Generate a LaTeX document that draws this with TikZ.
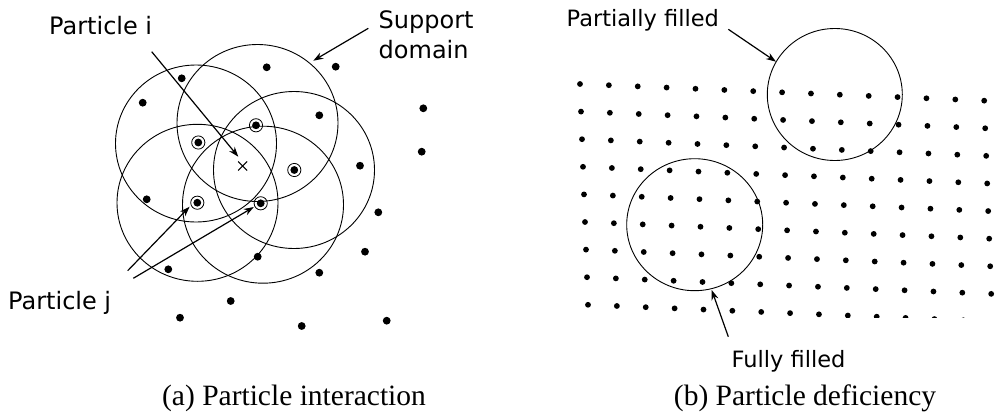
\documentclass[tikz,border=0pt]{standalone}
\usepackage{fontspec}
\setmainfont{Liberation Serif}
\newfontfamily\labelfont{DejaVu Sans}
\usetikzlibrary{arrows.meta}
\tikzset{
  lbl/.style={inner sep=0pt, anchor=base west, font=\labelfont\fontsize{24}{28}\selectfont},
  lblb/.style={inner sep=0pt, anchor=base west, font=\labelfont\fontsize{22.5}{27}\selectfont},
  captext/.style={inner sep=0pt, anchor=base, font=\fontsize{29.5}{34}\selectfont},
  dom/.style={line width=0.9pt, x radius=80.5, y radius=78.5},
  bigdot/.style={fill=black},
  ptr/.style={line width=1.2pt, -{Stealth[length=10pt,width=7pt]}},
}
\begin{document}
\begin{tikzpicture}[x=1pt,y=-1pt]
\useasboundingbox (0,0) rectangle (996,415);
% ---------- (a) ----------
\foreach \cx/\cy in {196/143.5, 257.5/123, 294/170, 197.5/202.8, 263/204.7}
  \draw[dom] (\cx,\cy) ellipse [];
\foreach \px/\py in {266.7/67.3, 335.7/66.7, 181.7/78.3, 142.7/102.7, 319.3/115.3,
  423.3/108.3, 421.7/151.7, 360/165.7, 146.7/199.3, 378.3/212.3, 257.7/256.7,
  365/251.7, 168.3/269.3, 319.3/272.7, 230.7/301, 180/317.7, 301.7/326, 386.7/320.7}
  \fill[bigdot] (\px,\py) circle (3.9);
\foreach \px/\py in {256/125.3, 198.3/142.5, 294.3/170, 197.3/202.7, 260.7/203.3}{
  \fill[bigdot] (\px,\py) circle (3.9);
  \draw[line width=0.8pt] (\px,\py) circle (6.6);
}
\coordinate (pi) at (242.7,166);
\draw[line width=1pt] (238.2,161.5) -- (247.2,170.5) (238.2,170.5) -- (247.2,161.5);
\node[lbl] (ti) at (49,34.3) {Particle i};
\node[lbl] (tj) at (8,309.3) {Particle j};
\node[lbl] (ts) at (378.5,28.3) {Support};
\node[lbl] (ts2) at (378.5,58.3) {domain};
\coordinate (ai0) at (151.7,51.7);
\coordinate (ai1) at (238.3,156.7);
\coordinate (as0) at (368.3,28.3);
\coordinate (as1) at (313.3,60.7);
\coordinate (aj0) at (127.7,270.7);
\coordinate (aj1) at (189.6,206.7);
\coordinate (ak0) at (133.3,278.3);
\coordinate (ak1) at (253.8,207);
\draw[ptr] (ai0) -- (ai1);
\draw[ptr] (as0) -- (as1);
\draw[ptr] (aj0) -- (aj1);
\draw[ptr] (ak0) -- (ak1);
\node[captext] (ca) at (294,405) {(a) Particle interaction};
% ---------- (b) ----------
\begin{scope}
\clip (550,0) rectangle (996,317.3);
\foreach \r in {0,...,8}
  \foreach \c in {0,...,14}
    \fill[bigdot] ({580+28.87*\c+1.0*\r},{84+1.19*\c+27.6*\r}) circle (2.9);
\end{scope}
\draw[line width=0.9pt] (834.8,94.5) ellipse [x radius=67.5, y radius=66];
\draw[line width=0.9pt] (694.7,224.7) ellipse [x radius=68, y radius=66];
\node[lblb] (tp) at (566.5,26.7) {Partially filled};
\node[lblb] (tf) at (731.5,367.3) {Fully filled};
\coordinate (ap0) at (728.3,29.3);
\coordinate (ap1) at (776,61.7);
\coordinate (af0) at (728.3,336.7);
\coordinate (af1) at (711.7,290);
\draw[ptr] (ap0) -- (ap1);
\draw[ptr] (af0) -- (af1);
\node[captext] (cb) at (805,405) {(b) Particle deficiency};
\end{tikzpicture}
\end{document}
